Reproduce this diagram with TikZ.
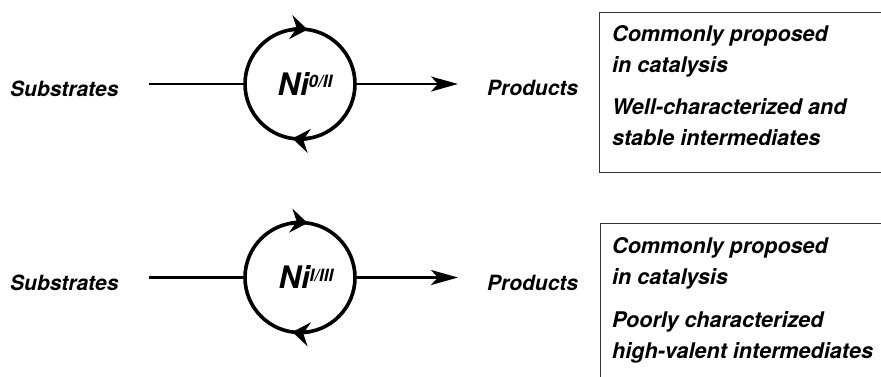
\documentclass[tikz,border=0pt]{standalone}
\usepackage{fontspec}
\setmainfont{TeX Gyre Heros}
\usetikzlibrary{arrows.meta,positioning}

\begin{document}
\begin{tikzpicture}[x=1pt, y=1pt,
    txt/.style={font=\fontsize{21}{31}\selectfont\bfseries\itshape, inner sep=0, align=left},
    note/.style={font=\fontsize{21.6}{31}\selectfont\bfseries\itshape, inner sep=0, align=left, anchor=base west},
    ring/.style={draw, circle, line width=3.6pt, minimum size=110pt, inner sep=0, outer sep=0},
    metal/.style={font=\bfseries\itshape, inner sep=0},
    link/.style={line width=2.8pt},
    flow/.style={line width=2.8pt, -{Stealth[length=27pt, width=15pt, inset=7pt]}},
    turn/.style={line width=3.6pt, -{Stealth[length=17pt, width=24pt, inset=6pt]}},
    notebox/.style={draw=black!80, line width=1.2pt, minimum width=320pt, anchor=north west}
]
\useasboundingbox (0,0) rectangle (881,-376);
\clip (0,0) rectangle (881,-376);

% upper cycle
\node[ring] (ring1) at (300,-84) {};
\node[metal] (ni1) at ([xshift=5pt]ring1) {{\fontsize{31}{31}\selectfont Ni}\raisebox{7.5pt}{\fontsize{17}{17}\selectfont 0/II}};
\node[txt, anchor=west] (sub1) at (10,-88.5) {Substrates};
\node[txt, anchor=west] (prod1) at (487,-88) {Products};
\node[notebox, minimum height=160pt] (box1) at (599,-12) {};
\node[note] (note1a) at (612,-72) {Commonly proposed\\in catalysis};
\node[note] (note1b) at (612,-145) {Well-characterized and\\stable intermediates};

\draw[link] (sub1.east |- ring1) [shorten <=30pt] -- (ring1);
\draw[flow] (ring1) -- (prod1.west |- ring1) [shorten >=29pt];
\draw[turn] (ring1.100) arc[start angle=100, end angle=82, radius=55pt];
\draw[turn] (ring1.280) arc[start angle=280, end angle=262, radius=55pt];

% lower cycle
\node[ring] (ring2) at (300,-277.5) {};
\node[metal] (ni2) at ([xshift=6pt]ring2) {{\fontsize{31}{31}\selectfont Ni}\raisebox{7.5pt}{\fontsize{17}{17}\selectfont I/III}};
\node[txt, anchor=west] (sub2) at (10,-283) {Substrates};
\node[txt, anchor=west] (prod2) at (487,-283) {Products};
\node[notebox, minimum height=200pt] (box2) at (600,-223) {};
\node[note] (note2a) at (612,-284) {Commonly proposed\\in catalysis};
\node[note] (note2b) at (612,-358) {Poorly characterized\\high-valent intermediates};

\draw[link] (sub2.east |- ring2) [shorten <=30pt] -- (ring2);
\draw[flow] (ring2) -- (prod2.west |- ring2) [shorten >=29pt];
\draw[turn] (ring2.100) arc[start angle=100, end angle=82, radius=55pt];
\draw[turn] (ring2.280) arc[start angle=280, end angle=262, radius=55pt];
\end{tikzpicture}
\end{document}
